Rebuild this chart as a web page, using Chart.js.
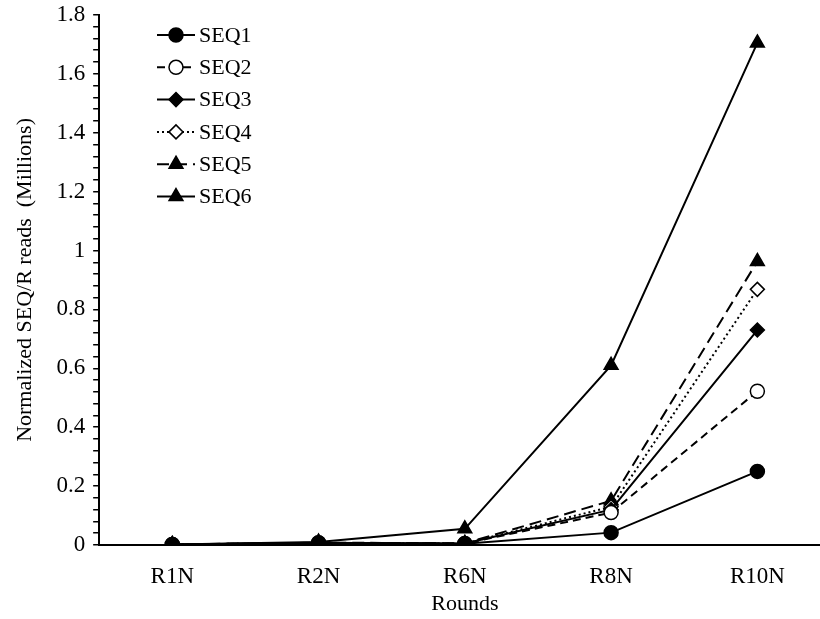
<!DOCTYPE html>
<html>
<head>
<meta charset="utf-8">
<script src="https://cdn.jsdelivr.net/npm/chart.js@4/dist/chart.umd.min.js"></script>
<style>
  html, body { margin: 0; padding: 0; background: #fff; overflow: hidden; }
  #wrap { width: 840px; height: 619px; }
</style>
</head>
<body>
<div id="wrap"><canvas id="seqChart"></canvas></div>
<script>
// --- DATOS ---
const rounds = ["R1N", "R2N", "R6N", "R8N", "R10N"];
const seq1 = [0.002, 0.008, 0.004, 0.042, 0.25];
const seq2 = [0.002, 0.007, 0.005, 0.11, 0.522];
const seq3 = [0.002, 0.007, 0.005, 0.12, 0.73];
const seq4 = [0.002, 0.007, 0.005, 0.13, 0.868];
const seq5 = [0.002, 0.008, 0.006, 0.15, 0.963];
const seq6 = [0.002, 0.01, 0.055, 0.61, 1.705];
const yTicks = [0, 0.2, 0.4, 0.6, 0.8, 1, 1.2, 1.4, 1.6, 1.8];

const FONT = "'Liberation Serif', 'Times New Roman', serif";

const mk = (label, data, style, dash, filled) => ({
  label, data,
  borderColor: '#000',
  borderWidth: 2,
  borderDash: dash,
  pointStyle: style,
  pointRadius: style === 'triangle' ? 8 : 7,
  pointBackgroundColor: filled ? '#000' : '#fff',
  pointBorderColor: '#000',
  pointBorderWidth: 1.5,
  tension: 0,
  fill: false
});

const datasets = [
  mk("SEQ1", seq1, 'circle', [], true),
  mk("SEQ2", seq2, 'circle', [8, 5], false),
  mk("SEQ3", seq3, 'rectRot', [], true),
  mk("SEQ4", seq4, 'rectRot', [2, 3], false),
  mk("SEQ5", seq5, 'triangle', [12, 6], true),
  mk("SEQ6", seq6, 'triangle', [], true)
];

// leyenda dibujada dentro del área
const insideLegend = {
  id: 'insideLegend',
  afterDraw(chart) {
    const ctx = chart.ctx;
    const x0 = 157, x1 = 195, y0 = 35, step = 32.3;
    chart.data.datasets.forEach((ds, i) => {
      const y = y0 + i * step;
      ctx.save();
      ctx.strokeStyle = '#000';
      ctx.lineWidth = 2;
      ctx.setLineDash(ds.borderDash);
      ctx.beginPath();
      ctx.moveTo(x0, y);
      ctx.lineTo(x1, y);
      ctx.stroke();
      ctx.setLineDash([]);
      ctx.fillStyle = ds.pointBackgroundColor;
      ctx.strokeStyle = '#000';
      ctx.lineWidth = ds.pointBorderWidth;
      ctx.beginPath();
      Chart.helpers.drawPoint(ctx, { pointStyle: ds.pointStyle, radius: ds.pointRadius, rotation: 0 }, (x0 + x1) / 2, y);
      ctx.fill();
      ctx.stroke();
      ctx.fillStyle = '#000';
      ctx.font = "22px " + FONT;
      ctx.textBaseline = 'middle';
      ctx.textAlign = 'left';
      ctx.fillText(ds.label, x1 + 4, y + 1);
      ctx.restore();
    });
  }
};

new Chart(document.getElementById("seqChart"), {
  type: 'line',
  data: { labels: rounds, datasets },
  plugins: [insideLegend],
  options: {
    responsive: true,
    maintainAspectRatio: false,
    animation: false,
    layout: { padding: { top: 2, right: 0, bottom: 2, left: 12 } },
    plugins: { legend: { display: false }, tooltip: { enabled: false } },
    scales: {
      x: {
        offset: true,
        grid: { display: false, drawTicks: false },
        border: { color: '#000', width: 2 },
        ticks: { color: '#000', font: { family: FONT, size: 23 }, padding: 18 },
        title: { display: true, text: 'Rounds', color: '#000', font: { family: FONT, size: 22 }, padding: { top: -18, bottom: 0 } }
      },
      y: {
        min: 0,
        max: 1.8,
        grid: { drawOnChartArea: false, color: '#000', tickLength: 6, lineWidth: 1.5 },
        border: { color: '#000', width: 2 },
        ticks: {
          stepSize: 0.04,
          autoSkip: false,
          color: '#000',
          font: { family: FONT, size: 23, lineHeight: 0.6 },
          padding: 8,
          callback: (v) => {
            const t = yTicks.find(k => Math.abs(k - v) < 1e-6);
            return t === undefined ? '' : String(t);
          }
        },
        title: { display: true, text: 'Normalized SEQ/R reads  (Millions)', color: '#000', font: { family: FONT, size: 22 }, padding: { top: 0, bottom: 10 } }
      }
    }
  }
});
</script>
</body>
</html>
